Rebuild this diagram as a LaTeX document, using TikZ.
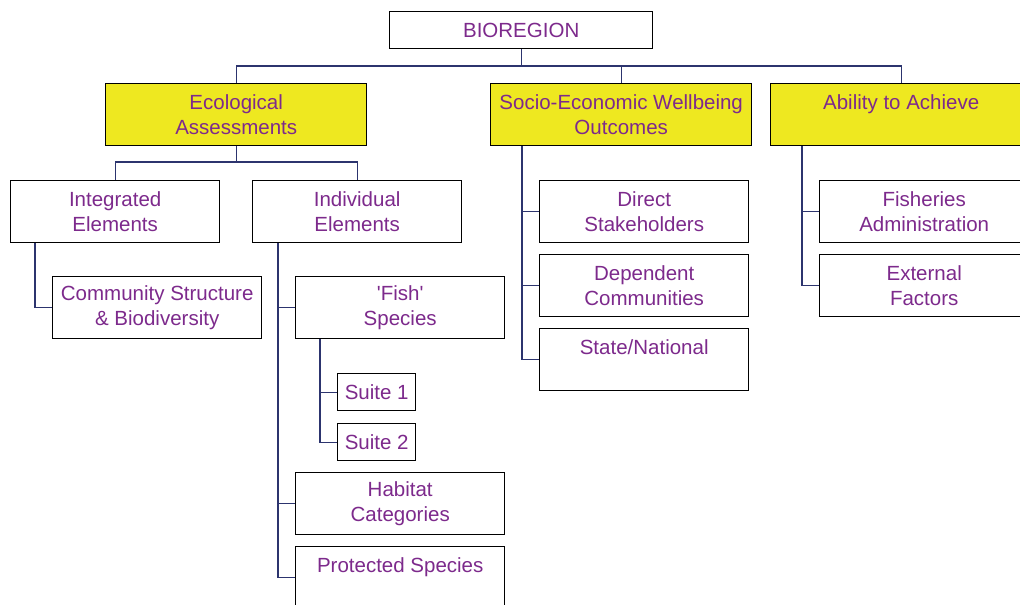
\documentclass[tikz,border=0pt]{standalone}
\usepackage{fontspec}
\setmainfont{Liberation Sans}
\definecolor{labelpurple}{RGB}{125,42,140}
\definecolor{headyellow}{RGB}{238,232,32}
\definecolor{linknavy}{RGB}{44,52,110}
\begin{document}
\begin{tikzpicture}[x=1pt,y=-1pt,
  box/.style={draw=black, line width=1.4pt, fill=white, rectangle, anchor=north west,
    inner sep=0pt, align=center, text=labelpurple,
    font=\fontsize{20.5}{24.5}\selectfont},
  wide/.style={box, minimum width=209pt, minimum height=62pt},
  head/.style={box, fill=headyellow, minimum width=261pt, minimum height=62pt},
  small/.style={box, minimum width=78pt, minimum height=37pt},
  link/.style={draw=linknavy, line width=1.3pt}]
\clip (0,0) rectangle (1020,605);
\fill[white] (0,0) rectangle (1020,605);

% top level
\node[box, minimum width=263pt, minimum height=37pt] (bio) at (389,11) {BIOREGION};

% second level headings
\node[head] (eco) at (105,83) {Ecological\\Assessments};
\node[head] (soc) at (490,83) {Socio-Economic Wellbeing\\Outcomes};
\node[head] (abl) at (770,83) {Ability to Achieve\\\phantom{A}};

% ecological branch
\node[wide] (int) at (10,180) {Integrated\\Elements};
\node[wide] (ind) at (252,180) {Individual\\Elements};
\node[wide] (com) at (52,276) {Community Structure\\\& Biodiversity};
\node[wide] (fish) at (295,276) {\textquotesingle Fish\textquotesingle\\Species};
\node[small] (su1) at (337,373) {Suite 1};
\node[small] (su2) at (337,423) {Suite 2};
\node[wide] (hab) at (295,472) {Habitat\\Categories};
\node[wide] (pro) at (295,546) {Protected Species\\\phantom{A}};

% socio-economic branch
\node[wide] (dir) at (539,180) {Direct\\Stakeholders};
\node[wide] (dep) at (539,254) {Dependent\\Communities};
\node[wide] (sta) at (539,328) {State/National\\\phantom{A}};

% ability branch
\node[wide] (fad) at (819,180) {Fisheries\\Administration};
\node[wide] (ext) at (819,254) {External\\Factors};

% connectors
\coordinate (busA) at (0,66);
\draw[link] (bio.south) -- (bio.south |- busA) -| (eco.north);
\draw[link] (bio.south |- busA) -| (soc.north);
\draw[link] (bio.south |- busA) -| (abl.north);

\coordinate (busB) at (0,162);
\draw[link] (eco.south) -- (eco.south |- busB) -| (int.north);
\draw[link] (eco.south |- busB) -| (ind.north);

\draw[link] ([xshift=25pt]int.south west) |- (com.west);

\draw[link] ([xshift=26pt]ind.south west) |- (pro.west);
\draw[link] ([xshift=26pt]ind.south west) |- (fish.west);
\draw[link] ([xshift=26pt]ind.south west) |- (hab.west);

\draw[link] ([xshift=25pt]fish.south west) |- (su2.west);
\draw[link] ([xshift=25pt]fish.south west) |- (su1.west);

\draw[link] ([xshift=32pt]soc.south west) |- (sta.west);
\draw[link] ([xshift=32pt]soc.south west) |- (dir.west);
\draw[link] ([xshift=32pt]soc.south west) |- (dep.west);

\draw[link] ([xshift=32pt]abl.south west) |- (ext.west);
\draw[link] ([xshift=32pt]abl.south west) |- (fad.west);
\end{tikzpicture}
\end{document}
